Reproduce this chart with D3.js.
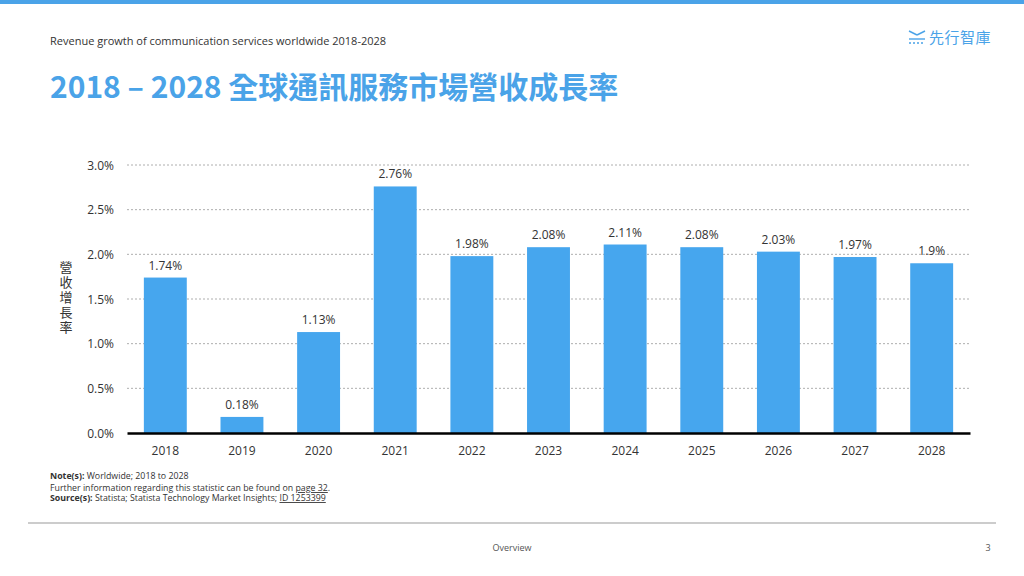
<!DOCTYPE html>
<html><head><meta charset="utf-8">
<script src="https://cdn.jsdelivr.net/npm/d3@7"></script>
<style>
body{margin:0;background:#fff;}
svg{display:block;}
</style></head>
<body>
<svg id="c" width="1024" height="576"></svg>
<script>
const years = ["2018","2019","2020","2021","2022","2023","2024","2025","2026","2027","2028"];
const growth = [1.74,0.18,1.13,2.76,1.98,2.08,2.11,2.08,2.03,1.97,1.9];
const growthLabels = ["1.74%","0.18%","1.13%","2.76%","1.98%","2.08%","2.11%","2.08%","2.03%","1.97%","1.9%"];
const yTicks = [0,0.5,1.0,1.5,2.0,2.5,3.0];

const svg = d3.select("#c");
const blue = "#46A6EE";
const cjk = "'Noto Sans CJK TC','Noto Sans',sans-serif";
const sans = "'Open Sans','Noto Sans',sans-serif";

// top bar
svg.append("rect").attr("x",0).attr("y",0).attr("width",1024).attr("height",4).attr("fill","#4AA3E8");

svg.append("text").attr("x",50).attr("y",45).attr("font-family",sans).attr("font-size",11).attr("fill","#333")
  .text("Revenue growth of communication  services worldwide 2018-2028");

svg.append("text").attr("x",50).attr("y",98).attr("font-family",cjk).attr("font-weight","bold").attr("font-size",30).attr("fill","#4AA3E8")
  .text("2018 – 2028 全球通訊服務市場營收成長率");

// logo
const lg = svg.append("g").attr("stroke","#4AA3E8").attr("stroke-width",1.4);
lg.append("line").attr("x1",909).attr("x2",917).attr("y1",31).attr("y2",35);
lg.append("line").attr("x1",917).attr("x2",925).attr("y1",35).attr("y2",31);
lg.append("line").attr("x1",909).attr("x2",925).attr("y1",39).attr("y2",39);
lg.append("line").attr("x1",909).attr("x2",925).attr("y1",43).attr("y2",43).attr("stroke-dasharray","2,2");
svg.append("text").attr("x",929).attr("y",43).attr("font-family",cjk).attr("font-size",15).attr("fill","#4AA3E8").attr("letter-spacing",0.5).text("先行智庫");

// chart
const x = d3.scaleBand().domain(years).range([127,970]).paddingInner(0.44).paddingOuter(0.22);
const y = d3.scaleLinear().domain([0,3]).range([433,165]);

const grid = svg.append("g");
grid.selectAll("line").data(yTicks.filter(d=>d>0)).join("line")
  .attr("x1",127).attr("x2",971).attr("y1",d=>y(d)).attr("y2",d=>y(d))
  .attr("stroke","#999").attr("stroke-width",0.8).attr("stroke-dasharray","2,2");

const yAxis = d3.axisLeft(y).tickValues(yTicks).tickFormat(d=>d.toFixed(1)+"%").tickSize(0).tickPadding(0);
svg.append("g").attr("transform","translate(114,0)").call(yAxis)
  .call(g=>g.select(".domain").remove())
  .call(g=>g.selectAll("text").attr("font-family",sans).attr("font-size",12).attr("fill","#333").attr("dy","0.35em"));

svg.append("g").selectAll("rect").data(years).join("rect")
  .attr("x",d=>x(d)).attr("width",x.bandwidth())
  .attr("y",(d,i)=>y(growth[i])).attr("height",(d,i)=>y(0)-y(growth[i]))
  .attr("fill",blue);

svg.append("g").selectAll("text").data(years).join("text")
  .attr("x",d=>x(d)+x.bandwidth()/2).attr("y",(d,i)=>y(growth[i])-8)
  .attr("text-anchor","middle").attr("font-family",sans).attr("font-size",12).attr("fill","#333")
  .text((d,i)=>growthLabels[i]);

const xAxis = d3.axisBottom(x).tickSize(0).tickPadding(13);
svg.append("g").attr("transform","translate(0,433)").call(xAxis)
  .call(g=>g.select(".domain").attr("stroke","#000").attr("stroke-width",2.5))
  .call(g=>g.selectAll("text").attr("font-family",sans).attr("font-size",12).attr("fill","#333"));

// y title vertical
svg.append("text").attr("x",66).attr("y",298).attr("text-anchor","middle")
  .attr("writing-mode","vertical-rl").attr("letter-spacing",2)
  .attr("font-family",cjk).attr("font-size",13).attr("fill","#333").text("營收增長率");

// notes
const fs = 8.8;
const n1 = svg.append("text").attr("x",50).attr("y",479).attr("font-family",sans).attr("font-size",fs).attr("fill","#333");
n1.append("tspan").attr("font-weight","bold").text("Note(s): ");
n1.append("tspan").text("Worldwide; 2018 to 2028");
const n2 = svg.append("text").attr("x",50).attr("y",491).attr("font-family",sans).attr("font-size",fs).attr("fill","#333");
n2.append("tspan").text("Further  information regarding this statistic can be found on ");
n2.append("tspan").attr("text-decoration","underline").text("page 32");
n2.append("tspan").text(".");
const n3 = svg.append("text").attr("x",50).attr("y",501).attr("font-family",sans).attr("font-size",fs).attr("fill","#333");
n3.append("tspan").attr("font-weight","bold").text("Source(s): ");
n3.append("tspan").text(" Statista; Statista Technology Market  Insights; ");
n3.append("tspan").attr("text-decoration","underline").text("ID 1253399");

// footer
svg.append("line").attr("x1",28).attr("x2",996).attr("y1",523).attr("y2",523).attr("stroke","#999").attr("stroke-width",1.2);
svg.append("text").attr("x",512).attr("y",551).attr("text-anchor","middle").attr("font-family",sans).attr("font-size",9).attr("fill","#555").text("Overview");
svg.append("text").attr("x",988).attr("y",551).attr("text-anchor","middle").attr("font-family",sans).attr("font-size",9).attr("fill","#555").text("3");
</script>
</body></html>
